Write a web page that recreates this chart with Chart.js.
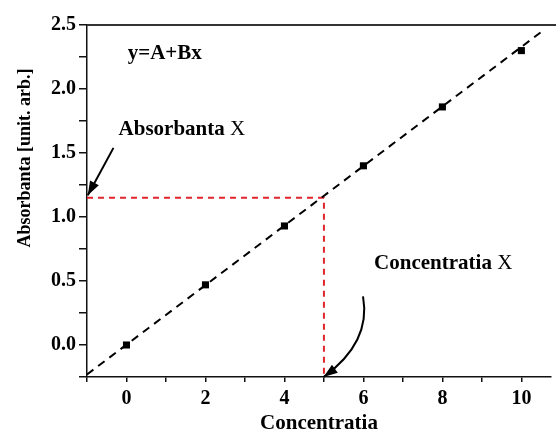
<!DOCTYPE html>
<html>
<head>
<title>Absorbanta vs Concentratia</title>
<script src="https://cdn.jsdelivr.net/npm/chart.js"></script>
<style>
  body { margin: 0; overflow: hidden; background: #fff; }
  #wrap { width: 556px; height: 443px; }
</style>
</head>
<body>
<div id="wrap"><canvas id="chart"></canvas></div>
<script>
// measured points
const conc = [0, 2, 4, 6, 8, 10];
const absorb = [0.0, 0.47, 0.93, 1.40, 1.86, 2.30];
// fit line y=A+Bx, ends
const fitX = [-1, 10.5];
const fitY = [-0.23, 2.445];
// red guide from Absorbanta X down to Concentratia X
const guideX = [-1, 5, 5];
const guideY = [1.15, 1.15, -0.25];
// x tick marks (labels only on even ones)
const xTickVals = [-1, 0, 1, 2, 3, 4, 5, 6, 7, 8, 9, 10];

const serif = '"Liberation Serif", "Times New Roman", serif';
const toXY = (xs, ys) => xs.map((v, i) => ({x: v, y: ys[i]}));

// texts and arrows drawn on top of the plot
const notes = {
  id: 'notes',
  afterDraw(chart) {
    const {ctx, chartArea: a, scales: {x, y}} = chart;
    ctx.save();
    // plot runs past the right edge of the picture: no right frame
    ctx.fillStyle = '#fff';
    ctx.fillRect(a.right - 3, a.top + 2, chart.width - a.right + 3, a.bottom - a.top - 3);
    // top frame line
    ctx.strokeStyle = '#333';
    ctx.lineWidth = 2;
    ctx.beginPath();
    ctx.moveTo(a.left, a.top);
    ctx.lineTo(chart.width, a.top);
    ctx.stroke();

    ctx.fillStyle = '#000';
    ctx.textBaseline = 'middle';
    ctx.textAlign = 'left';
    function label(bold, plain, xv, yv) {
      const px = x.getPixelForValue(xv), py = y.getPixelForValue(yv);
      ctx.font = 'bold 21px ' + serif;
      ctx.fillText(bold, px, py);
      const w = ctx.measureText(bold + ' ').width;
      if (plain) {
        ctx.font = '21px ' + serif;
        ctx.fillText(plain, px + w, py);
      }
    }
    label('y=A+Bx', '', 0.03, 2.28);
    label('Absorbanta', 'X', -0.2, 1.68);
    label('Concentratia', 'X', 6.27, 0.64);

    function head(x0, y0, x1, y1) {
      const ang = Math.atan2(y1 - y0, x1 - x0);
      ctx.beginPath();
      ctx.moveTo(x1, y1);
      ctx.lineTo(x1 - 14 * Math.cos(ang) + 5 * Math.sin(ang), y1 - 14 * Math.sin(ang) - 5 * Math.cos(ang));
      ctx.lineTo(x1 - 14 * Math.cos(ang) - 5 * Math.sin(ang), y1 - 14 * Math.sin(ang) + 5 * Math.cos(ang));
      ctx.closePath();
      ctx.fill();
    }
    ctx.strokeStyle = '#000';
    ctx.lineWidth = 2;
    // straight arrow to the y axis
    let sx = x.getPixelForValue(-0.33), sy = y.getPixelForValue(1.54);
    let ex = x.getPixelForValue(-0.98), ey = y.getPixelForValue(1.17);
    ctx.beginPath();
    ctx.moveTo(sx, sy);
    ctx.lineTo(ex, ey);
    ctx.stroke();
    head(sx, sy, ex, ey);
    // curved arrow to the x axis
    sx = x.getPixelForValue(5.99); sy = y.getPixelForValue(0.38);
    const cx = x.getPixelForValue(6.2), cy = y.getPixelForValue(0.02);
    ex = x.getPixelForValue(4.99); ey = y.getPixelForValue(-0.25);
    ctx.beginPath();
    ctx.moveTo(sx, sy);
    ctx.quadraticCurveTo(cx, cy, ex, ey);
    ctx.stroke();
    head(cx, cy, ex, ey);

    // y axis title
    ctx.translate(25, 158);
    ctx.rotate(-Math.PI / 2);
    ctx.textAlign = 'center';
    ctx.font = 'bold 18px ' + serif;
    ctx.fillText('Absorbanta [unit. arb.]', 0, 0);
    ctx.restore();
  }
};

const axisLine = {display: true, drawOnChartArea: false, drawTicks: true, color: '#111', lineWidth: 1.5};

new Chart(document.getElementById('chart'), {
  type: 'scatter',
  data: {
    datasets: [
      {
        data: toXY(conc, absorb),
        pointStyle: 'rect',
        pointRadius: 5,
        backgroundColor: '#000',
        borderColor: '#000',
        borderWidth: 0
      },
      {
        data: toXY(fitX, fitY),
        showLine: true,
        pointRadius: 0,
        borderColor: '#000',
        borderWidth: 2,
        borderDash: [8, 6]
      },
      {
        data: toXY(guideX, guideY),
        showLine: true,
        pointRadius: 0,
        borderColor: '#e0262c',
        borderWidth: 2,
        borderDash: [6, 5]
      }
    ]
  },
  options: {
    animation: false,
    responsive: true,
    maintainAspectRatio: false,
    layout: {padding: {top: 25, right: 0, left: 0, bottom: 0}},
    plugins: {legend: {display: false}, tooltip: {enabled: false}},
    scales: {
      x: {
        type: 'linear',
        min: -1,
        max: 10.75,
        afterBuildTicks: s => { s.ticks = xTickVals.map(v => ({value: v})); },
        grid: Object.assign({}, axisLine, {tickLength: 5}),
        border: {display: true, color: '#111', width: 1.5},
        ticks: {
          autoSkip: false,
          maxRotation: 0,
          padding: 5,
          color: '#000',
          font: {family: serif, size: 20, weight: 'bold'},
          callback: v => (v % 2 === 0 && v >= 0) ? String(v) : ''
        },
        title: {
          display: true,
          text: 'Concentratia',
          color: '#000',
          font: {family: serif, size: 21, weight: 'bold'},
          padding: {top: 0, bottom: 7}
        },
        afterFit: s => { s.height = 66; }
      },
      y: {
        min: -0.25,
        max: 2.5,
        grid: Object.assign({}, axisLine, {tickLength: 8}),
        border: {display: true, color: '#111', width: 1.5},
        ticks: {
          stepSize: 0.25,
          autoSkip: false,
          padding: 3,
          color: '#000',
          font: {family: serif, size: 20, weight: 'bold'},
          callback: v => Math.abs(v * 2 - Math.round(v * 2)) < 1e-6 ? v.toFixed(1) : ''
        },
        afterFit: s => { s.width = 87; }
      }
    }
  },
  plugins: [notes]
});
</script>
</body>
</html>
